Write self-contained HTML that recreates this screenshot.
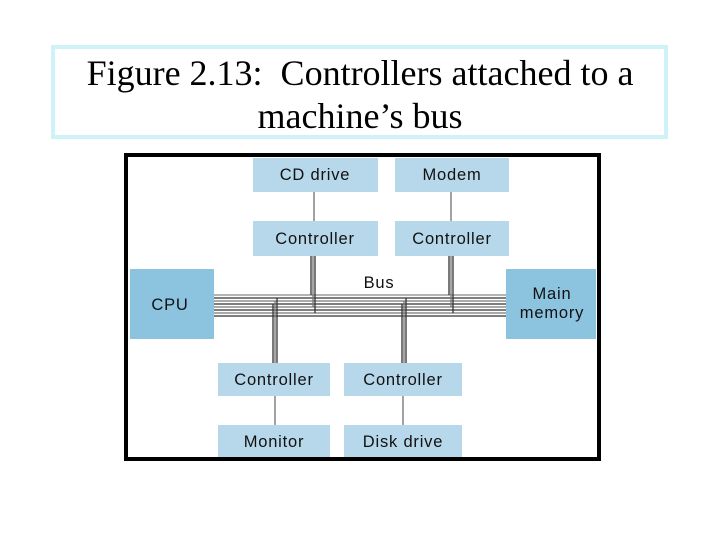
<!DOCTYPE html>
<html><head><style>
body{margin:0;background:#fff;width:720px;height:540px;overflow:hidden}
</style></head><body>
<svg width="720" height="540" xmlns="http://www.w3.org/2000/svg" font-family="Liberation Sans, sans-serif">
<rect x="53" y="47" width="613" height="90" fill="#fff" stroke="#cdf3f8" stroke-width="4"/>
<text x="360" y="85" font-family="Liberation Serif, serif" font-size="36" text-anchor="middle" fill="#000" xml:space="preserve">Figure 2.13:  Controllers attached to a</text>
<text x="360" y="128" font-family="Liberation Serif, serif" font-size="36" text-anchor="middle" fill="#000">machine’s bus</text>
<rect x="126" y="155" width="473" height="304" fill="#fff" stroke="#000" stroke-width="4"/>
<g fill="#b7d8ea">
<rect x="253" y="158" width="125" height="34"/>
<rect x="395" y="158" width="114" height="34"/>
<rect x="253" y="221" width="125" height="35"/>
<rect x="395" y="221" width="114" height="35"/>
<rect x="218" y="363" width="112" height="33"/>
<rect x="344" y="363" width="118" height="33"/>
<rect x="218" y="425" width="112" height="32"/>
<rect x="344" y="425" width="118" height="32"/>
</g>
<g fill="#8cc3de">
<rect x="130" y="269" width="84" height="70"/>
<rect x="506" y="269" width="90" height="70"/>
</g>
<g stroke="#444" stroke-width="1">
<line x1="314" y1="192" x2="314" y2="221"/>
<line x1="451" y1="192" x2="451" y2="221"/>
<line x1="275" y1="396" x2="275" y2="425"/>
<line x1="403" y1="396" x2="403" y2="425"/>
</g>
<g stroke-width="1.3">
<line x1="214" y1="295" x2="506" y2="295" stroke="#888"/>
<line x1="214" y1="298" x2="506" y2="298" stroke="#333"/>
<line x1="214" y1="301" x2="506" y2="301" stroke="#777"/>
<line x1="214" y1="304" x2="506" y2="304" stroke="#333"/>
<line x1="214" y1="307" x2="506" y2="307" stroke="#777"/>
<line x1="214" y1="310" x2="506" y2="310" stroke="#333"/>
<line x1="214" y1="313" x2="506" y2="313" stroke="#777"/>
<line x1="214" y1="316" x2="506" y2="316" stroke="#333"/>
<line x1="311" y1="256" x2="311" y2="295" stroke="#333"/>
<line x1="313" y1="256" x2="313" y2="307" stroke="#777"/>
<line x1="315" y1="256" x2="315" y2="313" stroke="#333"/>
<line x1="449" y1="256" x2="449" y2="295" stroke="#333"/>
<line x1="451" y1="256" x2="451" y2="307" stroke="#777"/>
<line x1="453" y1="256" x2="453" y2="313" stroke="#333"/>
<line x1="273" y1="304" x2="273" y2="363" stroke="#333"/>
<line x1="275" y1="301" x2="275" y2="363" stroke="#777"/>
<line x1="277" y1="298" x2="277" y2="363" stroke="#333"/>
<line x1="402" y1="304" x2="402" y2="363" stroke="#333"/>
<line x1="404" y1="301" x2="404" y2="363" stroke="#777"/>
<line x1="406" y1="298" x2="406" y2="363" stroke="#333"/>
</g>
<g font-size="16.5" fill="#111" text-anchor="middle" letter-spacing="0.8">
<text x="315" y="180">CD drive</text>
<text x="452" y="180">Modem</text>
<text x="315" y="244">Controller</text>
<text x="452" y="244">Controller</text>
<text x="379" y="288">Bus</text>
<text x="170" y="310">CPU</text>
<text x="552" y="299">Main</text>
<text x="552" y="318">memory</text>
<text x="274" y="385">Controller</text>
<text x="403" y="385">Controller</text>
<text x="274" y="447">Monitor</text>
<text x="403" y="447">Disk drive</text>
</g>
</svg>
</body></html>
